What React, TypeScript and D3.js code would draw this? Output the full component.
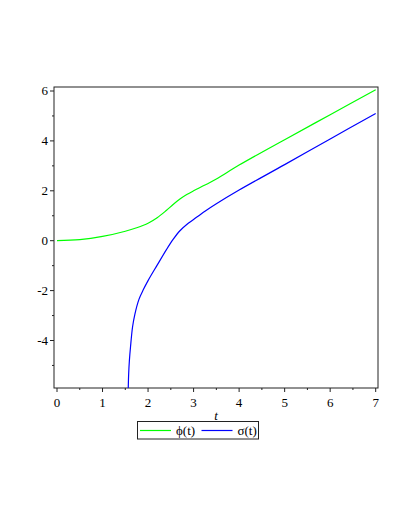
import React, { useRef, useEffect } from "react";
import * as d3 from "d3";

const W = 409;
const H = 529;
const FRAME = { left: 54, right: 378, top: 87, bottom: 388 };

// phi(t) samples
const phiT = [0, 0.5, 1, 1.5, 1.75, 2, 2.2, 2.4, 2.55, 2.7, 2.85, 3, 3.25, 3.5, 4, 5, 6, 7];
const phiV = [0, 0.04, 0.17, 0.38, 0.52, 0.7, 0.92, 1.21, 1.45, 1.67, 1.85, 2.0, 2.23, 2.47, 3.03, 4.05, 5.05, 6.05];

// sigma(t) samples
const sigmaT = [1.565, 1.575, 1.59, 1.615, 1.66, 1.71, 1.8, 1.9, 2.0, 2.2, 2.4, 2.55, 2.7, 2.85, 3, 3.25, 3.5, 4, 5, 6, 7];
const sigmaV = [-5.9, -5.3, -4.8, -4.25, -3.45, -2.95, -2.35, -1.95, -1.6, -0.98, -0.37, 0.05, 0.4, 0.65, 0.85, 1.18, 1.48, 2.03, 3.05, 4.08, 5.1];

const xTicks = [0, 1, 2, 3, 4, 5, 6, 7];
const yTicks = [-4, -2, 0, 2, 4, 6];
const legendLabels = ["\u03d5(t)", "\u03c3(t)"];
const colors = ["#00ff00", "#0000ff"];

export default function App() {
  const svgRef = useRef<SVGSVGElement>(null);

  useEffect(() => {
    const svg = d3.select(svgRef.current);
    svg.selectAll("*").remove();

    const x = d3.scaleLinear().domain([0, 7]).range([57, 375.7]);
    const y = d3.scaleLinear().domain([0, 6]).range([240.7, 91]);

    const font = "'Liberation Serif', 'Times New Roman', serif";

    // frame
    svg.append("rect")
      .attr("x", FRAME.left)
      .attr("y", FRAME.top)
      .attr("width", FRAME.right - FRAME.left)
      .attr("height", FRAME.bottom - FRAME.top)
      .attr("fill", "none")
      .attr("stroke", "#222")
      .attr("stroke-width", 1);

    // x ticks (major + minor)
    const xMinor = d3.range(0.5, 7, 1);
    svg.append("g").selectAll("line")
      .data(xTicks).join("line")
      .attr("x1", (d) => x(d)).attr("x2", (d) => x(d))
      .attr("y1", FRAME.bottom).attr("y2", FRAME.bottom + 4)
      .attr("stroke", "#222");
    svg.append("g").selectAll("line")
      .data(xMinor).join("line")
      .attr("x1", (d) => x(d)).attr("x2", (d) => x(d))
      .attr("y1", FRAME.bottom).attr("y2", FRAME.bottom + 2)
      .attr("stroke", "#222");
    svg.append("g").selectAll("text")
      .data(xTicks).join("text")
      .attr("x", (d) => x(d))
      .attr("y", FRAME.bottom + 19)
      .attr("text-anchor", "middle")
      .style("font-family", font)
      .attr("font-size", 13)
      .text((d) => d);

    // y ticks
    const yMinor = [-5, -3, -1, 1, 3, 5];
    svg.append("g").selectAll("line")
      .data(yTicks).join("line")
      .attr("x1", FRAME.left - 4).attr("x2", FRAME.left)
      .attr("y1", (d) => y(d)).attr("y2", (d) => y(d))
      .attr("stroke", "#222");
    svg.append("g").selectAll("line")
      .data(yMinor).join("line")
      .attr("x1", FRAME.left - 2).attr("x2", FRAME.left)
      .attr("y1", (d) => y(d)).attr("y2", (d) => y(d))
      .attr("stroke", "#222");
    svg.append("g").selectAll("text")
      .data(yTicks).join("text")
      .attr("x", FRAME.left - 6)
      .attr("y", (d) => y(d) + 4)
      .attr("text-anchor", "end")
      .style("font-family", font)
      .attr("font-size", 13)
      .text((d) => (d < 0 ? "-" + Math.abs(d) : String(d)));

    // axis label
    svg.append("text")
      .attr("x", 216)
      .attr("y", 420)
      .attr("text-anchor", "middle")
      .style("font-family", font)
      .attr("font-style", "italic")
      .attr("font-size", 13)
      .text("t");

    // curves
    const line = d3.line<[number, number]>()
      .x((d) => x(d[0]))
      .y((d) => y(d[1]))
      .curve(d3.curveCatmullRom.alpha(0.5));

    const series: [number, number][][] = [
      phiT.map((t, i) => [t, phiV[i]]),
      sigmaT.map((t, i) => [t, sigmaV[i]]),
    ];

    svg.append("g").selectAll("path")
      .data(series).join("path")
      .attr("d", (d) => line(d))
      .attr("fill", "none")
      .attr("stroke", (_, i) => colors[i])
      .attr("stroke-width", 1.2);

    // legend
    const lg = svg.append("g");
    lg.append("rect")
      .attr("x", 137.5).attr("y", 421.5)
      .attr("width", 121).attr("height", 17.5)
      .attr("fill", "white")
      .attr("stroke", "#222");
    const items = lg.selectAll("g.item")
      .data(legendLabels).join("g")
      .attr("transform", (_, i) => `translate(${140 + i * 61.5},430.5)`);
    items.append("line")
      .attr("x1", 0).attr("x2", 31)
      .attr("stroke", (_, i) => colors[i])
      .attr("stroke-width", 1.2);
    items.append("text")
      .attr("x", 36).attr("y", 4.5)
      .style("font-family", font)
      .attr("font-size", 13)
      .text((d) => d);
  }, []);

  return (
    <svg
      ref={svgRef}
      width={W}
      height={H}
      style={{ position: "absolute", left: 0, top: 0, background: "white" }}
    />
  );
}
